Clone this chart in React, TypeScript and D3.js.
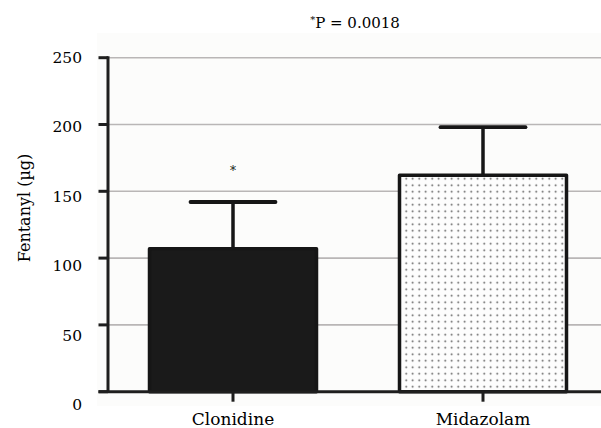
import React from "react";
import * as d3 from "d3";

const categories = ["Clonidine", "Midazolam"];
const means = [107, 162];
const errTops = [142, 198];
const yTicks = [0, 50, 100, 150, 200, 250];
const title = "P = 0.0018";
const yLabel = "Fentanyl (µg)";

const W = 601;
const H = 428;
const FONT = "'DejaVu Serif', serif";

export default function App() {
  const y = d3.scaleLinear().domain([0, 250]).range([391.7, 57.7]);
  const yLab = d3.scaleLinear().domain([0, 250]).range([405, 57.5]);
  const x = d3
    .scaleBand<string>()
    .domain(categories)
    .range([108, 608])
    .paddingInner(0.32)
    .paddingOuter(0.16);
  const bw = x.bandwidth();
  const axisX = 108;
  const axisY = y(0);

  return (
    <svg
      width={W}
      height={H}
      style={{ position: "absolute", left: 0, top: 0, background: "#fff" }}
    >
      <defs>
        <pattern id="dots" width={6.5} height={6.5} patternUnits="userSpaceOnUse">
          <rect width={6.5} height={6.5} fill="#fdfdfd" />
          <circle cx={3.2} cy={3.2} r={0.9} fill="#555" />
        </pattern>
      </defs>
      <rect x={97} y={33} width={W - 97} height={373} fill="#fcfcfb" />
      {yTicks
        .filter((t) => t > 0)
        .map((t) => (
          <line
            key={"g" + t}
            x1={axisX}
            x2={W}
            y1={y(t)}
            y2={y(t)}
            stroke="#b9b6b6"
            strokeWidth={1.6}
          />
        ))}
      {categories.map((c, i) => {
        const x0 = x(c)!;
        const cx = x0 + bw / 2;
        return (
          <g key={c}>
            <line
              x1={cx}
              x2={cx}
              y1={y(means[i])}
              y2={y(errTops[i])}
              stroke="#161616"
              strokeWidth={3.5}
            />
            <line
              x1={cx - bw / 4}
              x2={cx + bw / 4}
              y1={y(errTops[i])}
              y2={y(errTops[i])}
              stroke="#161616"
              strokeWidth={3.8}
              strokeLinecap="round"
            />
            <rect
              x={x0 + 1.5}
              y={y(means[i])}
              width={bw - 3}
              height={axisY - y(means[i])}
              fill={i === 0 ? "#1a1a1a" : "url(#dots)"}
              stroke="#161616"
              strokeWidth={3.5}
              strokeLinejoin="round"
            />
          </g>
        );
      })}
      <text
        x={x(categories[0])! + bw / 2}
        y={175}
        textAnchor="middle"
        fontFamily={FONT}
        fontSize={12}
        fill="#111"
      >
        *
      </text>
      <line x1={axisX} x2={axisX} y1={y(250) - 1.5} y2={axisY} stroke="#1e1e1e" strokeWidth={3} />
      {yTicks.map((t) => (
        <g key={"t" + t}>
          <line x1={98.5} x2={axisX} y1={y(t)} y2={y(t)} stroke="#1e1e1e" strokeWidth={3} />
          <text
            x={82}
            y={yLab(t)}
            dy="0.35em"
            textAnchor="end"
            fontFamily={FONT}
            fontSize={15.5}
            fill="#000"
          >
            {t}
          </text>
        </g>
      ))}
      <line x1={98.5} x2={W} y1={axisY} y2={axisY} stroke="#1e1e1e" strokeWidth={3} />
      {categories.map((c) => {
        const cx = x(c)! + bw / 2;
        return (
          <g key={"xl" + c}>
            <line x1={cx} x2={cx} y1={axisY} y2={axisY + 10} stroke="#1e1e1e" strokeWidth={3} />
            <text
              x={cx}
              y={425}
              textAnchor="middle"
              fontFamily={FONT}
              fontSize={17}
              fill="#000"
            >
              {c}
            </text>
          </g>
        );
      })}
      <text
        transform={`translate(30,208) rotate(-90)`}
        textAnchor="middle"
        fontFamily={FONT}
        fontSize={16}
        fill="#000"
      >
        {yLabel}
      </text>
      <text x={355} y={28} textAnchor="middle" fontFamily={FONT} fontSize={15} fill="#000">
        <tspan fontSize={10} dy={-5}>*</tspan>
        <tspan dy={5}>{title}</tspan>
      </text>
    </svg>
  );
}
